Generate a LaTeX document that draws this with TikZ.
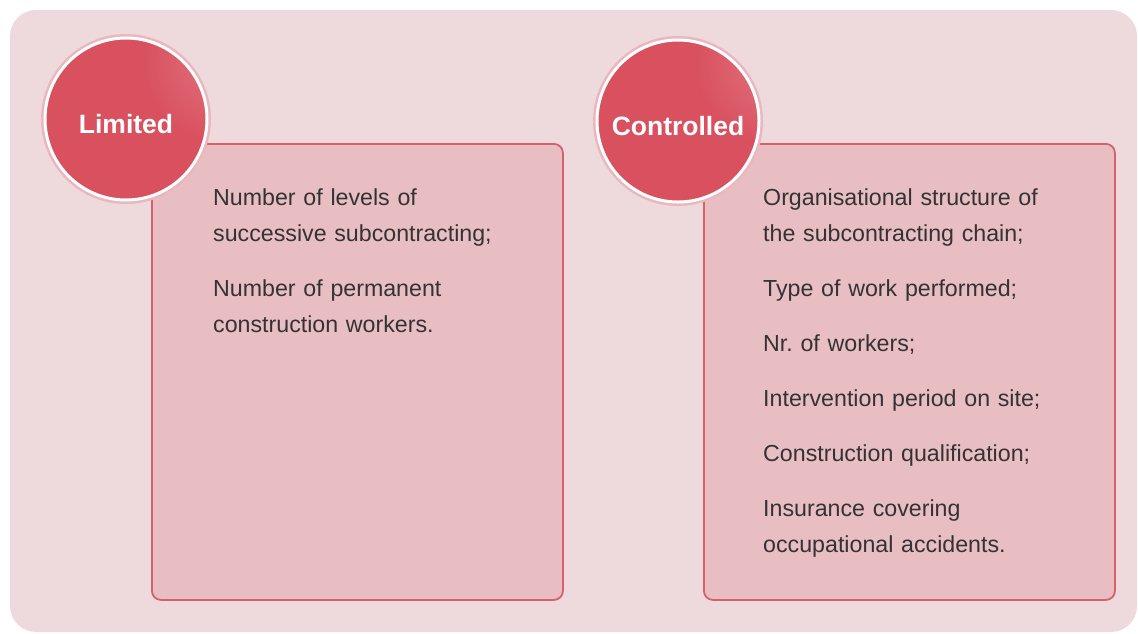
\documentclass[tikz,border=0pt]{standalone}
\usepackage{fontspec}
\setmainfont{Liberation Sans}
\usetikzlibrary{positioning}

\definecolor{panelbg}{HTML}{EEDADC}
\definecolor{boxfill}{HTML}{E8BEC2}
\definecolor{boxline}{HTML}{D6606C}
\definecolor{ballred}{HTML}{D9505F}
\definecolor{ballhi}{HTML}{F2C4C8}
\definecolor{textgrey}{HTML}{333333}

\pgfdeclareradialshading{redball}{\pgfpoint{38bp}{22bp}}{%
  color(0bp)=(ballhi); color(12bp)=(ballred!80!ballhi);
  color(24bp)=(ballred); color(100bp)=(ballred)}

\tikzset{
  listbox/.style={draw=boxline, line width=1.8pt, fill=boxfill, rounded corners=9pt,
    minimum width=411pt, minimum height=456pt, inner sep=0pt, anchor=north west},
  ball/.style={circle, draw=white, line width=3pt, minimum size=162pt, inner sep=0pt,
    shading=redball},
  balltext/.style={text=white, yshift=-5pt, font=\bfseries\fontsize{26.5}{30}\selectfont},
  glow/.style={circle, fill=ballred!25!panelbg, minimum size=170pt, inner sep=0pt},
  items/.style={text=textgrey, align=left, text width=340pt, inner sep=0pt,
    anchor=base west, font=\fontsize{23.2}{36}\selectfont}
}

\begin{document}
\begin{tikzpicture}[x=1pt,y=-1pt]
  \useasboundingbox (0,0) rectangle (1138,633);
  \fill[panelbg, rounded corners=26pt] (10,10) rectangle (1137,632);

  % left column
  \node[listbox] (limbox) at (151,143) {};
  \node[glow] at (126,119) {};
  \node[ball, label={[balltext]center:Limited}] (limited) at (126,119) {};
  \node[items] (limtext) at (213,205)
    {Number of levels of\\ successive subcontracting;\\[19pt]
     Number of permanent\\ construction workers.};

  % right column
  \node[listbox] (conbox) at (703,143) {};
  \node[glow] at (678,121) {};
  \node[ball, label={[balltext]center:Controlled}] (controlled) at (678,121) {};
  \node[items] (context) at (763,205)
    {Organisational structure of\\ the subcontracting chain;\\[19pt]
     Type of work performed;\\[19pt]
     Nr.\ of workers;\\[19pt]
     Intervention period on site;\\[19pt]
     Construction qualification;\\[19pt]
     Insurance covering\\ occupational accidents.};
\end{tikzpicture}
\end{document}
